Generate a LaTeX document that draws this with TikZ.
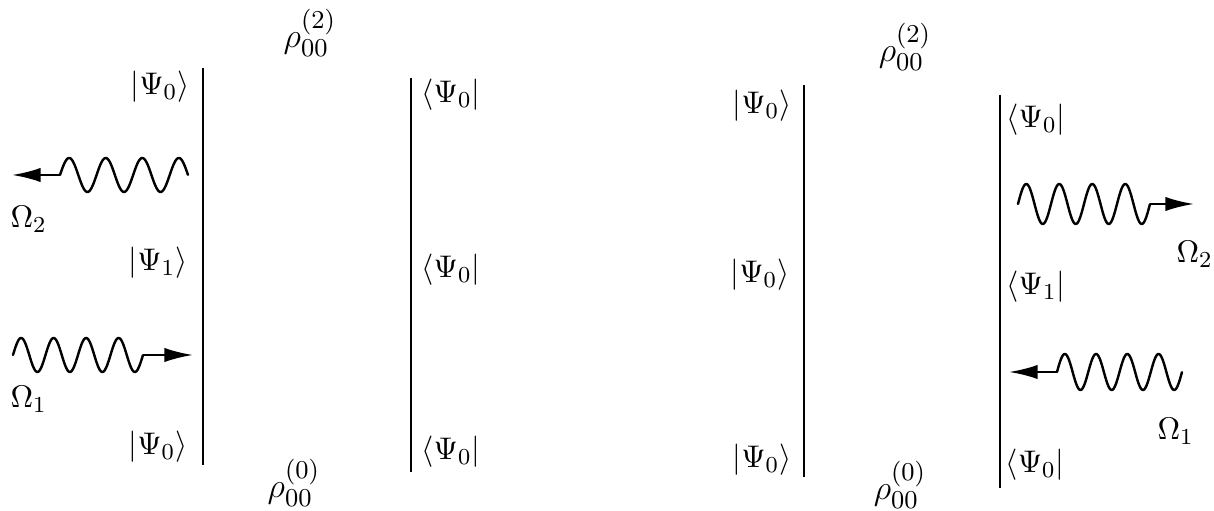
\documentclass[tikz,border=0pt]{standalone}
\usetikzlibrary{arrows.meta}
\begin{document}
\begin{tikzpicture}[x=0.35pt,y=-0.35pt,
  rail/.style={line width=0.85pt},
  wv/.style={line width=0.85pt, line join=round, line cap=round},
  ray/.style={line width=0.85pt, -{Latex[length=10pt,width=5pt]}},
  lbl/.style={inner sep=0pt, font=\fontsize{11}{13}\selectfont},
  rho/.style={inner sep=0pt, font=\fontsize{13}{15}\selectfont}]
\useasboundingbox (0,0) rectangle (1214,511);

% ---------- left diagram ----------
\coordinate (L1t) at (203,68);  \coordinate (L1b) at (203,465);
\coordinate (L2t) at (411,78);  \coordinate (L2b) at (411,472);
\draw[rail] (L1t) -- (L1b);
\draw[rail] (L2t) -- (L2b);

\node[lbl, anchor=east] (ka1) at (190,87)  {$|\Psi_0\rangle$};
\node[lbl, anchor=east] (ka2) at (188,263) {$|\Psi_1\rangle$};
\node[lbl, anchor=east] (ka3) at (188,447) {$|\Psi_0\rangle$};
\node[lbl, anchor=west] (ba1) at (421,95)  {$\langle\Psi_0|$};
\node[lbl, anchor=west] (ba2) at (421,270) {$\langle\Psi_0|$};
\node[lbl, anchor=west] (ba3) at (421,452) {$\langle\Psi_0|$};
\node[rho] (ra2) at (310,33)  {$\rho_{00}^{(2)}$};
\node[rho] (ra0) at (294,483) {$\rho_{00}^{(0)}$};

% Omega_2 (left, outgoing to the left)
\coordinate (wa2s) at (60,175);
\coordinate (wa2t) at (12,175);
\draw[wv, shift={(wa2s)}] plot[domain=0:1, samples=160] ({128*\x},{-17*sin(1260*\x)});
\draw[ray] (wa2s) -- (wa2t);
\node[lbl, anchor=base west] (oa2) at (10,228) {$\Omega_2$};

% Omega_1 (left, incoming)
\coordinate (wa1s) at (13,355);
\coordinate (wa1e) at (143,355);
\coordinate (wa1t) at (193,355);
\draw[wv, shift={(wa1s)}] plot[domain=0:1, samples=160] ({130*\x},{-17*sin(1440*\x)});
\draw[ray] (wa1e) -- (wa1t);
\node[lbl, anchor=base west] (oa1) at (10,408) {$\Omega_1$};

% ---------- right diagram ----------
\coordinate (L3t) at (804,85);   \coordinate (L3b) at (804,477);
\coordinate (L4t) at (1000,95);  \coordinate (L4b) at (1000,488);
\draw[rail] (L3t) -- (L3b);
\draw[rail] (L4t) -- (L4b);

\node[lbl, anchor=east] (kb1) at (792,106) {$|\Psi_0\rangle$};
\node[lbl, anchor=east] (kb2) at (790,275) {$|\Psi_0\rangle$};
\node[lbl, anchor=east] (kb3) at (792,460) {$|\Psi_0\rangle$};
\node[lbl, anchor=west] (bb1) at (1006,120) {$\langle\Psi_0|$};
\node[lbl, anchor=west] (bb2) at (1006,287) {$\langle\Psi_1|$};
\node[lbl, anchor=west] (bb3) at (1005,465) {$\langle\Psi_0|$};
\node[rho] (rb2) at (905,47)  {$\rho_{00}^{(2)}$};
\node[rho] (rb0) at (900,485) {$\rho_{00}^{(0)}$};

% Omega_2 (right, outgoing to the right)
\coordinate (wb2s) at (1018,204);
\coordinate (wb2e) at (1150,204);
\coordinate (wb2t) at (1194,204);
\draw[wv, shift={(wb2s)}] plot[domain=0:1, samples=160] ({132*\x},{-20*sin(1440*\x)});
\draw[ray] (wb2e) -- (wb2t);
\node[lbl, anchor=base west] (ob2) at (1176,263) {$\Omega_2$};

% Omega_1 (right, incoming to the left)
\coordinate (wb1s) at (1057,372);
\coordinate (wb1t) at (1009,372);
\draw[wv, shift={(wb1s)}] plot[domain=0:1, samples=160] ({125*\x},{-18*sin(1440*\x)});
\draw[ray] (wb1s) -- (wb1t);
\node[lbl, anchor=base west] (ob1) at (1157,440) {$\Omega_1$};
\end{tikzpicture}
\end{document}
